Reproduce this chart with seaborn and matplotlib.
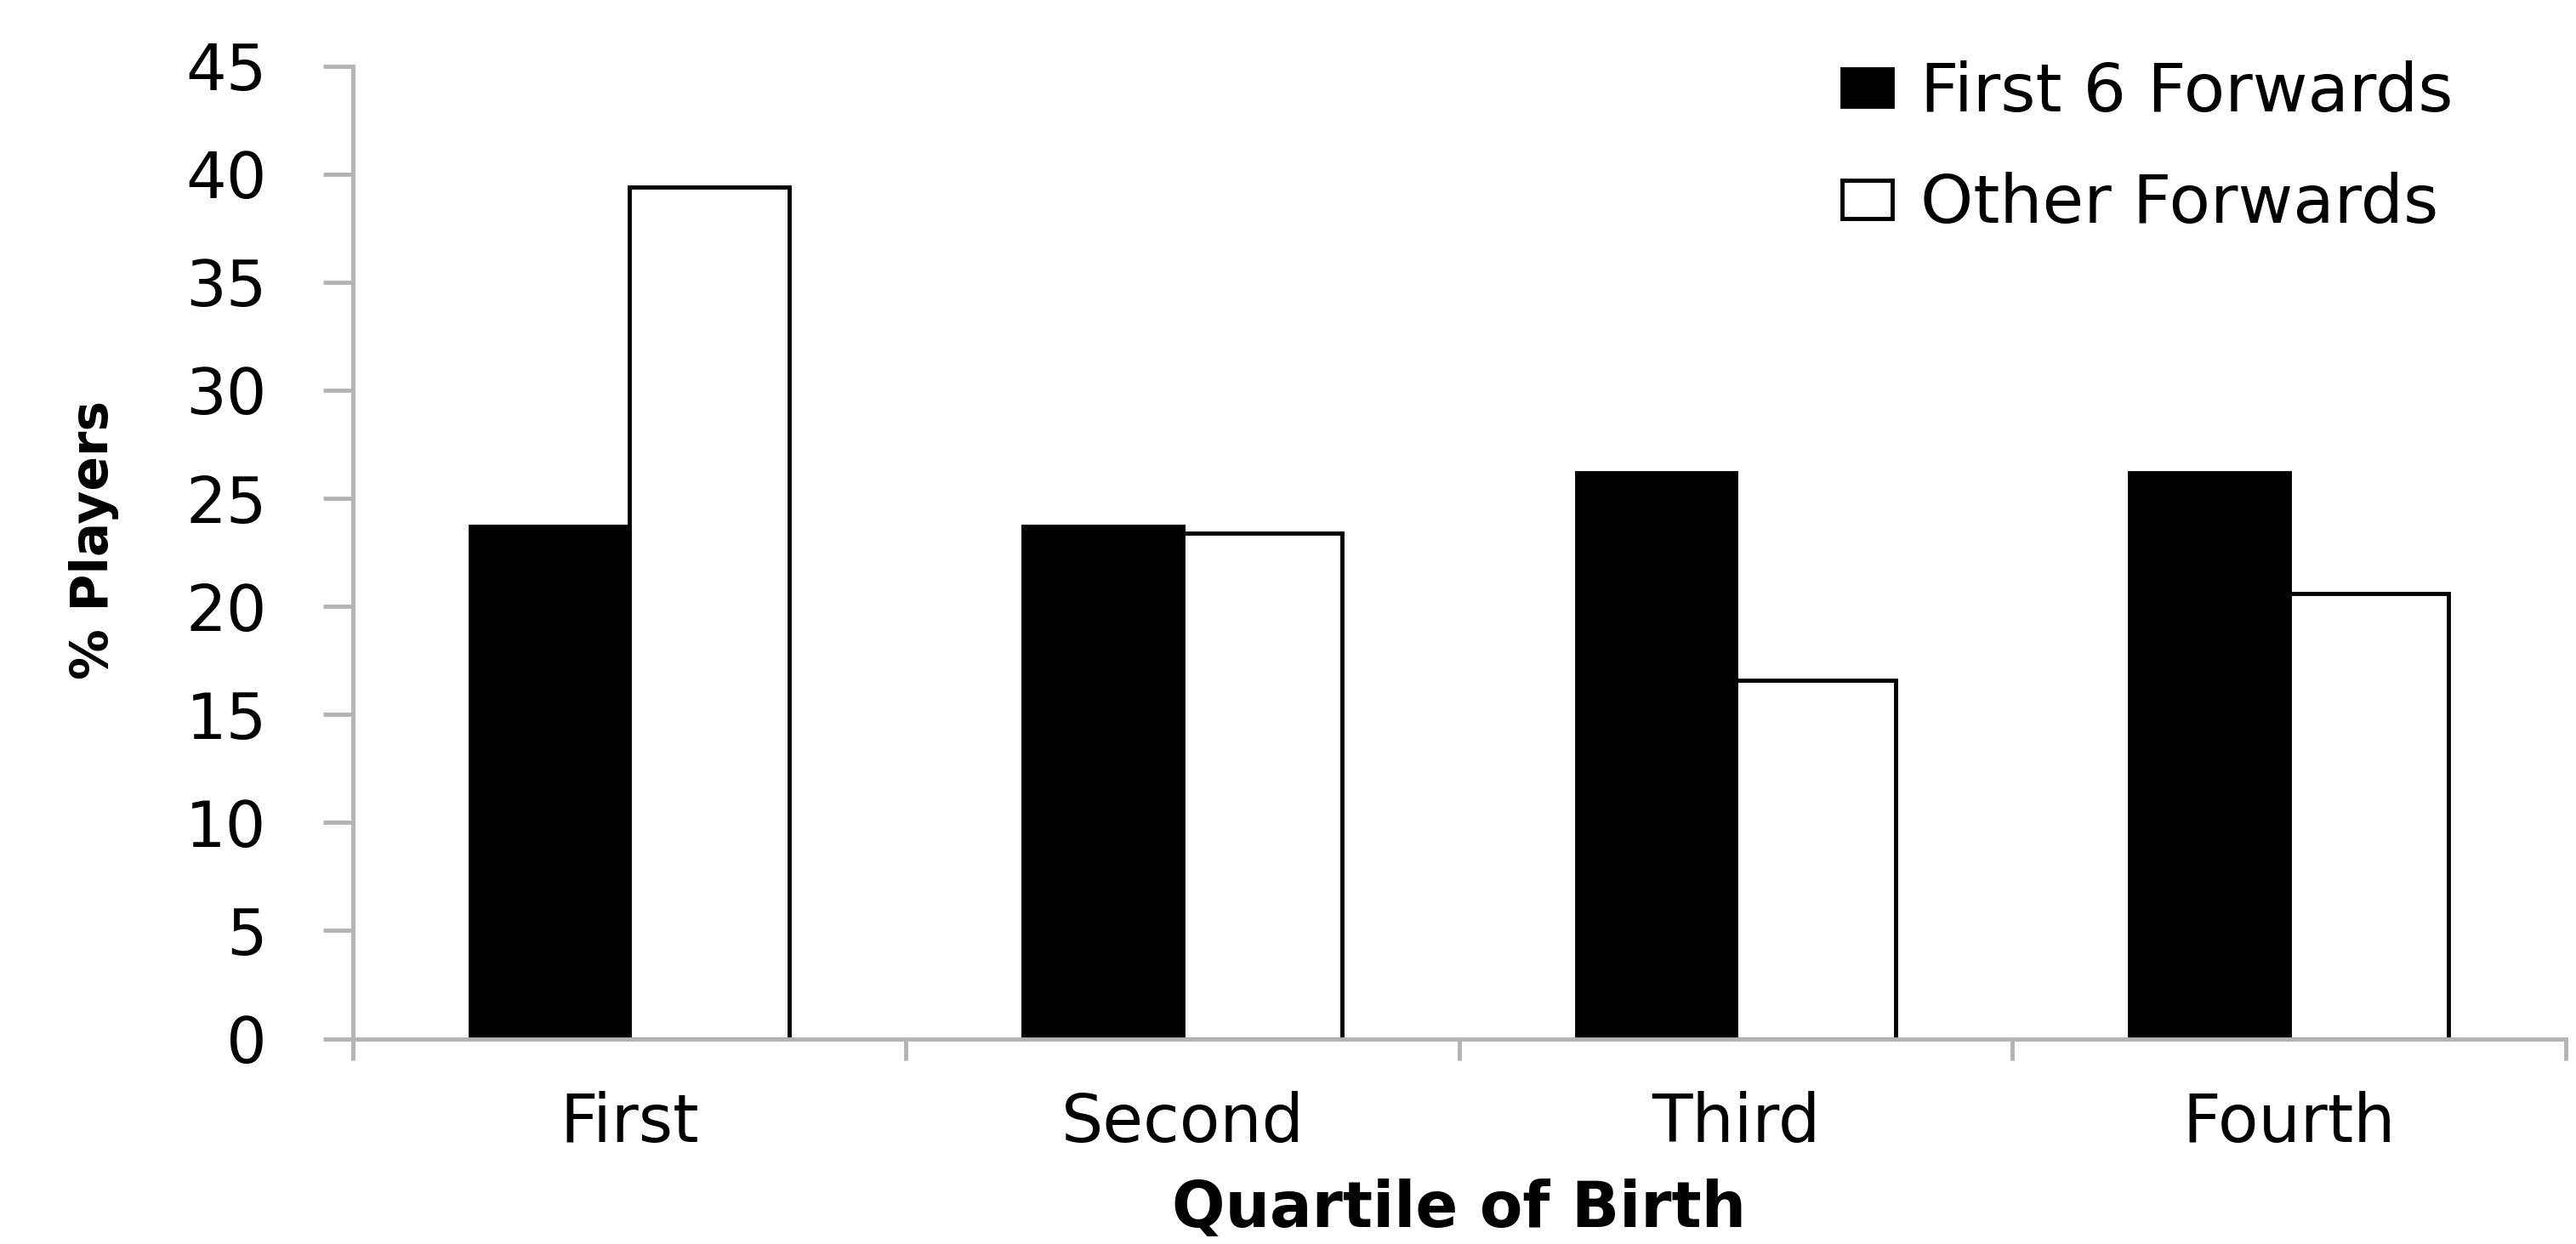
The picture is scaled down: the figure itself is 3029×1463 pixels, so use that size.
import pandas as pd
import matplotlib.pyplot as plt
import seaborn as sns

# Data
quartiles = ['First', 'Second', 'Third', 'Fourth']
first_six = [23.7, 23.7, 26.2, 26.2]
other_fwd = [39.4, 23.4, 16.6, 20.6]
groups = ['First 6 Forwards', 'Other Forwards']

df = pd.DataFrame({
    'Quartile': quartiles * 2,
    'Pct': first_six + other_fwd,
    'Group': [groups[0]] * 4 + [groups[1]] * 4,
})

sns.set_style("white")
plt.rcParams['font.family'] = ['DejaVu Sans']
plt.rcParams['text.color'] = 'black'
plt.rcParams['axes.labelcolor'] = 'black'

axis_grey = '#b3b3b3'

fig = plt.figure(figsize=(30.29, 14.63), dpi=100)
ax = fig.add_axes([0.137, 0.165, 0.859, 0.782])

sns.barplot(data=df, x='Quartile', y='Pct', hue='Group', order=quartiles,
            hue_order=groups, palette=['black', 'white'], width=0.576,
            edgecolor='black', linewidth=3.5, saturation=1, ax=ax)

ax.set_ylim(0, 45)
ax.set_xlim(-0.5, 3.5)
ax.set_yticks(range(0, 46, 5))
ax.tick_params(axis='y', labelsize=54, length=25, width=3.5, color=axis_grey,
               labelcolor='black', direction='out', left=True, pad=48)
ax.set_xticks([-0.5, 0.5, 1.5, 2.5, 3.5], minor=True)
ax.tick_params(axis='x', which='major', length=0, labelsize=56, pad=44,
               labelcolor='black')
ax.tick_params(axis='x', which='minor', length=18, width=3.5, color=axis_grey,
               direction='out', bottom=True)

for side in ['top', 'right']:
    ax.spines[side].set_visible(False)
for side in ['left', 'bottom']:
    ax.spines[side].set_color(axis_grey)
    ax.spines[side].set_linewidth(3.5)

ax.set_ylabel('% Players', fontsize=43, fontweight='bold')
ax.yaxis.set_label_coords(-0.1057, 0.513)
ax.set_xlabel('Quartile of Birth', fontsize=53, fontweight='bold', labelpad=20)

ax.legend(loc='upper left', bbox_to_anchor=(0.715, 0.9515),
          bbox_transform=fig.transFigure, frameon=False, fontsize=57,
          handlelength=0.75, handleheight=0.49, handletextpad=0.42,
          labelspacing=0.7, borderpad=0, borderaxespad=0)

plt.savefig('out.png', dpi=100)
plt.close()
